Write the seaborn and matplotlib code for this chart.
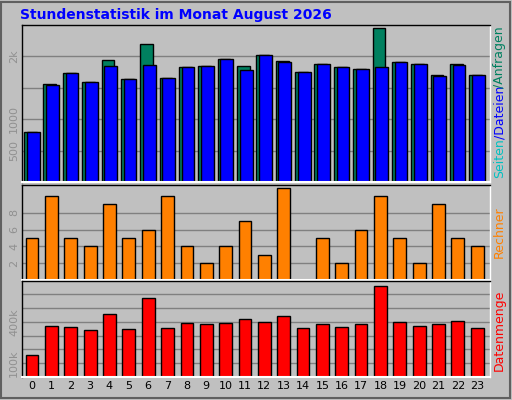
import numpy as np
import pandas as pd
import matplotlib.pyplot as plt
import seaborn as sns
from matplotlib.patches import Rectangle

# hourly stats
hours = list(range(24))
hits = [790, 1560, 1737, 1592, 1947, 1640, 2205, 1656, 1834, 1850, 1963, 1850,
        2027, 1930, 1753, 1882, 1834, 1801, 2447, 1914, 1882, 1705, 1882, 1705]
files = [790, 1543, 1737, 1592, 1850, 1640, 1866, 1656, 1834, 1850, 1957, 1785,
         2027, 1914, 1753, 1882, 1834, 1801, 1834, 1914, 1882, 1688, 1866, 1705]
sites = [5, 10, 5, 4, 9, 5, 6, 10, 4, 2, 4, 7, 3, 11, 0, 5, 2, 6, 10, 5, 2, 9, 5, 4]
kbytes = [156, 368, 361, 339, 456, 346, 573, 354, 390, 383, 390, 420,
          398, 441, 354, 383, 361, 383, 661, 398, 368, 383, 405, 354]

BG = '#C0C0C0'
sns.set_theme(style='white')
plt.rcParams['font.family'] = ['DejaVu Sans']

fig = plt.figure(figsize=(5.12, 4.0), dpi=100, facecolor=BG)
fig.patches.append(Rectangle((0.002, 0.004), 0.994, 0.992, transform=fig.transFigure,
                             fill=False, edgecolor='#606060', lw=1.5))
fig.text(0.04, 0.962, 'Stundenstatistik im Monat August 2026', color='#0000FF',
         fontsize=10, fontweight='bold', va='center')

L, W = 0.043, 0.914
ax1 = fig.add_axes([L, 0.545, W, 0.3925])
ax2 = fig.add_axes([L, 0.30, W, 0.2375])
ax3 = fig.add_axes([L, 0.0575, W, 0.24])

df = pd.DataFrame({'hour': hours, 'hits': hits, 'files': files,
                   'sites': sites, 'kb': [k * 1000 for k in kbytes]})
df['hx'] = df['hour'] - 0.08
df['fx'] = df['hour'] + 0.06

sns.barplot(data=df, x='hx', y='hits', native_scale=True, ax=ax1, color='#00805F',
            saturation=1, width=0.66, edgecolor='black', linewidth=1)
sns.barplot(data=df, x='fx', y='files', native_scale=True, ax=ax1, color='#0000FF',
            saturation=1, width=0.66, edgecolor='black', linewidth=1)
sns.barplot(data=df, x='hour', y='sites', native_scale=True, ax=ax2, color='#FF8000',
            saturation=1, width=0.66, edgecolor='black', linewidth=1)
sns.barplot(data=df, x='hour', y='kb', native_scale=True, ax=ax3, color='#FF0000',
            saturation=1, width=0.66, edgecolor='black', linewidth=1)

cfg = [(ax1, 2500, [500, 1000, 1500, 2000], ['500', '1000', '', '2k']),
       (ax2, 11.3, [2, 4, 6, 8], ['2', '4', '6', '8']),
       (ax3, 695000, [100000, 200000, 300000, 400000, 500000, 600000],
        ['100k', '', '', '400k', '', ''])]
for ax, top, ticks, labels in cfg:
    ax.set_facecolor(BG)
    ax.set_xlim(-0.52, 23.66)
    ax.set_ylim(0, top)
    ax.set_yticks(ticks)
    ax.set_yticklabels(labels, rotation=90, va='center', color='#909090', fontsize=8)
    ax.yaxis.grid(True, color='#808080', lw=1)
    ax.set_axisbelow(True)
    ax.tick_params(axis='y', length=0, pad=2)
    ax.set_xlabel('')
    ax.set_ylabel('')
    for s in ax.spines.values():
        s.set_color('black')
        s.set_linewidth(1)
    ax.spines['bottom'].set_color('white')
    ax.spines['right'].set_color('white')
    ax.spines['bottom'].set_linewidth(1.5)

for ax in (ax1, ax2):
    ax.set_xticks([])
ax3.set_xticks(hours)
ax3.set_xticklabels([str(h) for h in hours], fontsize=8, color='black')
ax3.tick_params(axis='x', length=0, pad=3)

# right-hand legend labels
fig.text(0.976, 0.555, 'Seiten', rotation=90, color='#00C0C0', fontsize=9, va='bottom', ha='center')
fig.text(0.976, 0.652, '/Dateien', rotation=90, color='#0000FF', fontsize=9, va='bottom', ha='center')
fig.text(0.976, 0.78, '/Anfragen', rotation=90, color='#00805F', fontsize=9, va='bottom', ha='center')
fig.text(0.976, 0.42, 'Rechner', rotation=90, color='#FF8000', fontsize=9, va='center', ha='center')
fig.text(0.976, 0.175, 'Datenmenge', rotation=90, color='#FF0000', fontsize=9, va='center', ha='center')

fig.savefig('out.png', dpi=100, facecolor=BG)
